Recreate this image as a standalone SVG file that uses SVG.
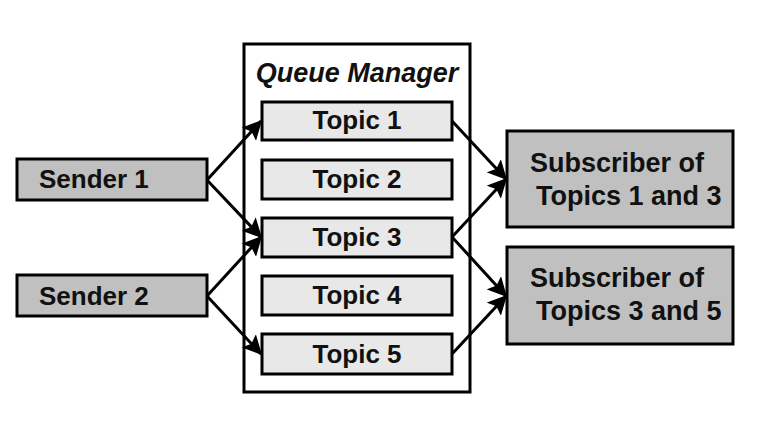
<svg xmlns="http://www.w3.org/2000/svg" width="761" height="426" viewBox="0 0 761 426">
<defs>
<marker id="ah" markerWidth="6.5" markerHeight="6.5" refX="6" refY="3.25" orient="auto" markerUnits="strokeWidth">
<path d="M0,0 L6.5,3.25 L0,6.5 L1.3,3.25 Z" fill="#000"/>
</marker>
<style>
.dark{fill:#c0c0c0;stroke:#000;stroke-width:3}
.light{fill:#e8e8e8;stroke:#000;stroke-width:3}
.qm{fill:#fff;stroke:#000;stroke-width:3}
text{font-family:"Liberation Sans",Arial,sans-serif;font-weight:bold;font-size:26px;fill:#111}
.c{text-anchor:middle}
.s{font-size:27px}
.conn line{stroke:#000;stroke-width:3;marker-end:url(#ah)}
</style>
</defs>
<rect width="761" height="426" fill="#fff"/>
<g id="queue-manager">
<rect class="qm" x="244" y="44" width="226" height="348"/>
<text class="c" x="357" y="82" style="font-style:italic;font-size:27px">Queue Manager</text>
</g>
<g id="topic1"><rect class="light" x="262" y="102" width="190" height="38"/><text class="c" x="357" y="129">Topic 1</text></g>
<g id="topic2"><rect class="light" x="262" y="160" width="190" height="39"/><text class="c" x="357" y="188">Topic 2</text></g>
<g id="topic3"><rect class="light" x="262" y="218" width="190" height="39"/><text class="c" x="357" y="246">Topic 3</text></g>
<g id="topic4"><rect class="light" x="262" y="276" width="190" height="39"/><text class="c" x="357" y="304">Topic 4</text></g>
<g id="topic5"><rect class="light" x="262" y="334" width="190" height="40"/><text class="c" x="357" y="363">Topic 5</text></g>
<g id="sender1"><rect class="dark" x="17" y="159" width="190" height="41"/><text x="39" y="188">Sender 1</text></g>
<g id="sender2"><rect class="dark" x="17" y="275" width="190" height="41"/><text x="39" y="305">Sender 2</text></g>
<g id="sub1"><rect class="dark" x="507" y="131" width="226" height="96"/><text class="s" x="530" y="172">Subscriber of</text><text class="s" x="536" y="205">Topics 1 and 3</text></g>
<g id="sub2"><rect class="dark" x="507" y="247" width="226" height="97"/><text class="s" x="530" y="287">Subscriber of</text><text class="s" x="536" y="320">Topics 3 and 5</text></g>
<g class="conn" id="connectors">
<line x1="207" y1="180" x2="261" y2="121"/>
<line x1="207" y1="180" x2="261" y2="237"/>
<line x1="207" y1="296" x2="261" y2="237"/>
<line x1="207" y1="296" x2="261" y2="354"/>
<line x1="452" y1="121" x2="506" y2="179"/>
<line x1="452" y1="237" x2="506" y2="179"/>
<line x1="452" y1="237" x2="506" y2="296"/>
<line x1="452" y1="354" x2="506" y2="296"/>
</g>
</svg>
